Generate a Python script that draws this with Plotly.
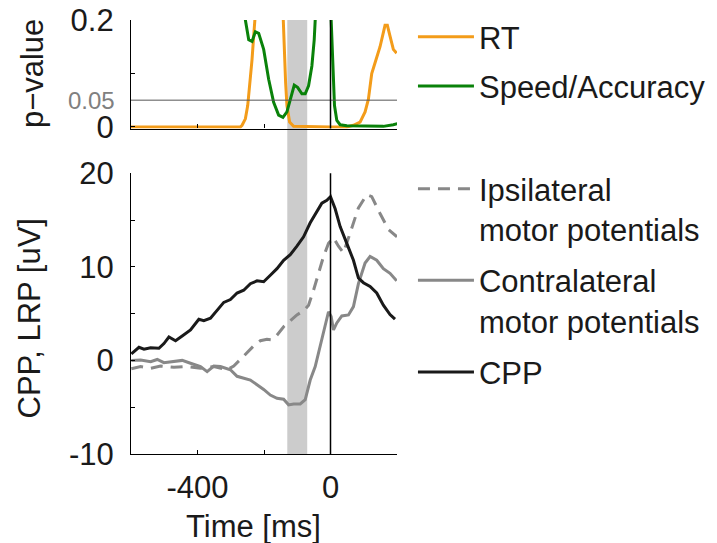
import plotly.graph_objects as go

# ---------------- data ----------------
# Top panel: p-values
rt_t = [-600, -500, -400, -300, -271, -266, -256, -249, -243, -236, -231, -226, -223, -200, -180, -160,
        -143, -139, -135, -131, -123, -111, -50, 0, 49, 69, 89, 104, 114, 124, 134, 149, 164, 171, 179, 189, 199]
rt_p = [0, 0, 0, 0, 0, 0.003, 0.015, 0.04, 0.077, 0.126, 0.17, 0.2, 0.24, 0.5, 0.6, 0.5,
        0.2, 0.145, 0.083, 0.04, 0.009, 0.001, 0, 0, 0, 0.003, 0.009, 0.028, 0.052, 0.1, 0.12, 0.15, 0.19, 0.19, 0.17, 0.145, 0.138]

sa_t = [-600, -500, -400, -300, -270, -256, -246, -236, -226, -216, -201, -186, -171, -156, -143, -131,
        -121, -109, -99, -86, -76, -66, -56, -49, -46, -30, -10, 2, 7, 12, 19, 29, 49, 100, 159, 189, 201]
sa_p = [0.9, 0.85, 0.8, 0.6, 0.35, 0.2, 0.163, 0.16, 0.178, 0.175, 0.145, 0.089, 0.046, 0.022, 0.018, 0.028,
        0.052, 0.078, 0.074, 0.062, 0.062, 0.077, 0.114, 0.163, 0.2, 0.5, 0.5, 0.2, 0.114, 0.04, 0.012, 0.004, 0.002, 0.001, 0.001, 0.004, 0.006]

sig_level = 0.05
band_t = [-130, -70]

# Bottom panel: CPP and motor potentials
cpp_t = [-599, -576, -561, -541, -516, -501, -486, -466, -446, -421, -396, -381, -361, -341, -321, -301,
         -281, -261, -241, -221, -201, -181, -161, -141, -121, -101, -81, -61, -41, -26, -11, 0,
         14, 29, 49, 69, 84, 99, 119, 139, 159, 179, 194]
cpp_v = [0.69, 1.4, 1.2, 1.36, 1.3, 1.8, 2.5, 2.1, 2.6, 3.25, 4.4, 4.25, 4.5, 5.4, 6.2, 6.5,
         7.2, 7.5, 8.2, 8.5, 8.4, 9.1, 9.8, 10.7, 11.3, 12.2, 13.2, 14.7, 15.9, 16.8, 17.1, 17.5,
         16.2, 14.3, 12.5, 10.7, 8.8, 8.3, 7.9, 7.2, 5.9, 4.9, 4.4]

ipsi_t = [-599, -571, -541, -511, -471, -431, -391, -351, -311, -291, -271, -251, -231, -211, -191, -176,
          -161, -141, -121, -101, -81, -66, -51, -36, -21, -6, 9, 24, 39, 59, 84, 109, 124, 149, 174, 200]
ipsi_v = [-0.9, -0.66, -0.84, -0.6, -0.74, -0.66, -0.84, -0.66, -1.0, -0.6, 0.1, 0.83, 1.55, 2.1, 2.25, 2.2,
          2.7, 3.6, 4.25, 4.86, 5.3, 5.9, 7.5, 9.3, 11.1, 12.5, 13.1, 12.2, 11.5, 13.6, 16.3, 17.7, 17.5, 15.7, 14.0, 13.2]

contra_t = [-599, -571, -541, -521, -501, -471, -446, -421, -391, -371, -351, -331, -301, -281, -261, -241,
            -221, -201, -181, -161, -141, -126, -111, -91, -76, -61, -46, -31, -16, -6, 2, 9,
            19, 34, 54, 69, 84, 104, 119, 139, 159, 179, 199]
contra_v = [0, 0.05, -0.13, 0.1, -0.24, -0.13, 0, -0.3, -0.66, -1.2, -0.6, -0.66, -1.0, -1.7, -1.9, -2.1,
            -2.6, -3.1, -3.7, -4.05, -4.15, -4.75, -4.65, -4.65, -4.2, -2.1, -0.66, 1.5, 3.6, 5.2, 4.7, 3.25,
            4.0, 4.75, 4.86, 5.75, 8.2, 10.4, 11.1, 10.7, 9.8, 9.3, 8.5]

x_tickvals = [-600, -400, -200, 0, 200]
x_ticktext = ['', '-400', '', '0', '']
y_tickvals = [-10, -5, 0, 5, 10, 15, 20]
y_ticktext = ['-10', '', '0', '', '10', '', '20']
p_tickvals = [0, 0.1, 0.2]
p_ticktext = ['0', '', '0.2']

# ---------------- figure ----------------
FONT = "Liberation Sans, Arial, Helvetica, sans-serif"
FS = 31
ORANGE = "#F39C1A"
GREEN = "#0A820A"
GREY = "#888888"
BLACK = "#1a1a1a"

fig = go.Figure()

fig.add_trace(go.Scatter(x=rt_t, y=rt_p, mode="lines", name="RT",
                         line=dict(color=ORANGE, width=3), xaxis="x2", yaxis="y2",
                         legend="legend", legendgroup="a"))
fig.add_trace(go.Scatter(x=sa_t, y=sa_p, mode="lines", name="Speed/Accuracy",
                         line=dict(color=GREEN, width=3), xaxis="x2", yaxis="y2",
                         legend="legend", legendgroup="b"))

fig.add_trace(go.Scatter(x=ipsi_t, y=ipsi_v, mode="lines", name="Ipsilateral<br>motor potentials",
                         line=dict(color=GREY, width=3, dash="12px,8px"),
                         legend="legend2", legendgroup="c"))
fig.add_trace(go.Scatter(x=contra_t, y=contra_v, mode="lines", name="Contralateral<br>motor potentials",
                         line=dict(color=GREY, width=3),
                         legend="legend2", legendgroup="d"))
fig.add_trace(go.Scatter(x=cpp_t, y=cpp_v, mode="lines", name="CPP",
                         line=dict(color=BLACK, width=3),
                         legend="legend2", legendgroup="e"))

# shaded interval spanning both panels
fig.add_shape(type="rect", xref="x", yref="paper", x0=band_t[0], x1=band_t[1], y0=0, y1=1,
              fillcolor="#cccccc", line=dict(width=0), layer="below")
# significance line
fig.add_shape(type="line", xref="x2 domain", yref="y2", x0=0, x1=1, y0=sig_level, y1=sig_level,
              line=dict(color="#555555", width=1))
# response-time vertical lines
fig.add_shape(type="line", xref="x", yref="y domain", x0=0, x1=0, y0=0, y1=1,
              line=dict(color="black", width=1.5))
fig.add_shape(type="line", xref="x2", yref="y2 domain", x0=0, x1=0, y0=0, y1=1,
              line=dict(color="black", width=1.5))

fig.add_annotation(text="0.05", xref="paper", yref="y2", x=0, y=sig_level, xanchor="right",
                   xshift=-14, showarrow=False, font=dict(size=24, color="#808080", family=FONT))

# axis titles
fig.add_annotation(text="p\u2212value", xref="paper", yref="paper", x=-0.368, y=0.8756,
                   xanchor="center", yanchor="middle", textangle=-90, showarrow=False,
                   font=dict(size=FS, family=FONT, color=BLACK))
fig.add_annotation(text="CPP, LRP [uV]", xref="paper", yref="paper", x=-0.380, y=0.312,
                   xanchor="center", yanchor="middle", textangle=-90, showarrow=False,
                   font=dict(size=FS, family=FONT, color=BLACK))
fig.add_annotation(text="Time [ms]", xref="paper", yref="paper", x=0.4605, y=-0.168,
                   xanchor="center", yanchor="middle", showarrow=False,
                   font=dict(size=FS, family=FONT, color=BLACK))

axis_common = dict(showline=True, linecolor="black", linewidth=1.2, ticks="inside",
                   ticklen=4, tickcolor="black", showgrid=False, zeroline=False, mirror=False,
                   automargin=False, ticklabeloverflow="allow")

fig.update_layout(
    width=709, height=535,
    margin=dict(l=123, r=320, t=12, b=89, autoexpand=False),
    paper_bgcolor="white", plot_bgcolor="rgba(0,0,0,0)",
    font=dict(family=FONT, size=FS, color=BLACK),
    xaxis=dict(**axis_common, range=[-600, 200], domain=[0, 1], anchor="y",
               tickvals=x_tickvals, ticktext=x_ticktext, ticklabelstandoff=6),
    yaxis=dict(**axis_common, range=[-10, 20], domain=[0, 0.647], anchor="x",
               tickvals=y_tickvals, ticktext=y_ticktext, ticklabelstandoff=10),
    xaxis2=dict(**axis_common, range=[-600, 200], domain=[0, 1], anchor="y2",
                tickvals=x_tickvals, showticklabels=False, matches="x"),
    yaxis2=dict(**axis_common, range=[-0.003, 0.2], domain=[0.75, 1], anchor="x2",
                tickvals=p_tickvals, ticktext=p_ticktext, ticklabelstandoff=10),
    legend=dict(x=1.060, xanchor="left", y=1.023, yanchor="top", bgcolor="rgba(0,0,0,0)",
                font=dict(size=FS, family=FONT), itemwidth=56, tracegroupgap=6, valign="middle"),
    legend2=dict(x=1.060, xanchor="left", y=0.6726, yanchor="top", bgcolor="rgba(0,0,0,0)",
                 font=dict(size=FS, family=FONT), itemwidth=56, tracegroupgap=8, valign="top"),
    showlegend=True,
)

fig.write_html("out.html")
